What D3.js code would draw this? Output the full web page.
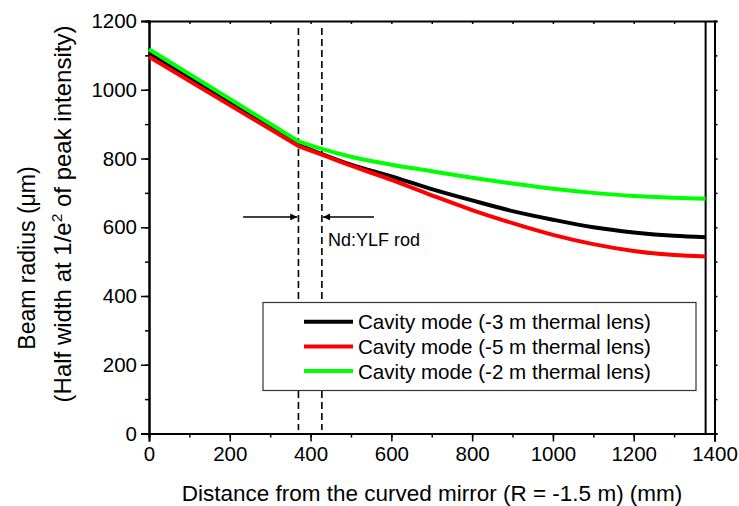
<!DOCTYPE html>
<html>
<head>
<meta charset="utf-8">
<script src="https://cdn.jsdelivr.net/npm/d3@7"></script>
<style>
  html, body { margin: 0; padding: 0; background: #fff; }
  svg { display: block; font-family: Arial, "Liberation Sans", sans-serif; }
</style>
</head>
<body>
<svg id="chart" width="739" height="506"></svg>
<script>
// Distance from the curved mirror (mm)
const distance = [0, 370, 428, 500, 600, 700, 800, 900, 1000, 1100, 1200, 1300, 1378];
// Beam radius (µm) for each thermal-lens case
const lens3m = [1105, 840, 813, 782, 748, 711, 678, 647, 622, 600, 585, 575, 571];
const lens5m = [1096, 836, 811, 779, 738, 693, 650, 612, 578, 551, 531, 519, 515];
const lens2m = [1118, 850, 828, 805, 782, 763, 744, 727, 712, 700, 691, 686, 683];

const seriesNames = [
  "Cavity mode (-3 m thermal lens)",
  "Cavity mode (-5 m thermal lens)",
  "Cavity mode (-2 m thermal lens)"
];
const seriesColors = ["#000000", "#ff0000", "#00ff00"];

// Rod boundaries and the end mirror position (mm)
const rodEdges = [370, 428];
const endMirror = 1378;

const xTicks = [0, 200, 400, 600, 800, 1000, 1200, 1400];
const yTicks = [0, 200, 400, 600, 800, 1000, 1200];

const svg = d3.select("#chart");
const plot = { left: 149, right: 714.5, top: 21, bottom: 433.5 };

const x = d3.scaleLinear().domain([0, 1400]).range([plot.left, plot.right]);
const y = d3.scaleLinear().domain([0, 1200]).range([plot.bottom, plot.top]);

const minorX = d3.range(0, 1401, 100);
const minorY = d3.range(0, 1201, 100);

// Bottom axis
const gx = svg.append("g").attr("transform", `translate(0,${plot.bottom})`);
gx.call(d3.axisBottom(x).tickValues(minorX).tickSize(4).tickFormat(""));
gx.append("g").call(d3.axisBottom(x).tickValues(xTicks).tickSize(8).tickPadding(5).tickFormat(d3.format("d")));
// Left axis
const gy = svg.append("g").attr("transform", `translate(${plot.left},0)`);
gy.call(d3.axisLeft(y).tickValues(minorY).tickSize(4).tickFormat(""));
gy.append("g").call(d3.axisLeft(y).tickValues(yTicks).tickSize(8).tickPadding(4).tickFormat(d3.format("d")));
// Top and right frame with small ticks
const gt = svg.append("g").attr("transform", `translate(0,${plot.top})`);
gt.call(d3.axisTop(x).tickValues(minorX).tickSize(-3).tickFormat(""));
const gr = svg.append("g").attr("transform", `translate(${plot.right},0)`);
gr.call(d3.axisRight(y).tickValues(minorY).tickSize(3).tickFormat(""));

svg.selectAll(".domain").attr("stroke", "#000").attr("stroke-width", 2);
svg.selectAll(".tick line").attr("stroke", "#000").attr("stroke-width", 1.5);
svg.selectAll(".tick text").attr("font-size", 20.5).attr("fill", "#000")
   .attr("font-family", "Arial, 'Liberation Sans', sans-serif");

// Rod boundaries (dashed) and end mirror (solid)
svg.append("g").selectAll("line").data(rodEdges).join("line")
  .attr("x1", d => x(d)).attr("x2", d => x(d))
  .attr("y1", y(1180)).attr("y2", y(10))
  .attr("stroke", "#000").attr("stroke-width", 1.6)
  .attr("stroke-dasharray", "7,4");
svg.append("line")
  .attr("x1", x(endMirror)).attr("x2", x(endMirror))
  .attr("y1", plot.top).attr("y2", plot.bottom)
  .attr("stroke", "#000").attr("stroke-width", 2);

// Beam radius curves: straight propagation up to the rod, smooth curve after it
const kink = distance.indexOf(rodEdges[0]);
const straight = d3.line().x(d => x(d[0])).y(d => y(d[1]));
const curved = d3.line().x(d => x(d[0])).y(d => y(d[1])).curve(d3.curveMonotoneX);
[lens3m, lens5m, lens2m].forEach((vals, k) => {
  const pts = distance.map((d, i) => [d, vals[i]]);
  const dStr = straight(pts.slice(0, kink + 1)) + curved(pts.slice(kink)).replace(/^M/, "L");
  svg.append("path")
    .attr("d", dStr)
    .attr("fill", "none")
    .attr("stroke", seriesColors[k])
    .attr("stroke-width", 4)
    .attr("stroke-linejoin", "round");
});

// Arrows marking the rod
const defs = svg.append("defs");
defs.append("marker").attr("id", "head")
  .attr("viewBox", "0 0 10 10").attr("refX", 10).attr("refY", 5)
  .attr("markerWidth", 11).attr("markerHeight", 7).attr("markerUnits", "userSpaceOnUse")
  .attr("orient", "auto")
  .append("path").attr("d", "M0,0 L10,5 L0,10 Z").attr("fill", "#000");
const arrows = [[233, 367], [557, 431]];
svg.append("g").selectAll("line").data(arrows).join("line")
  .attr("x1", d => x(d[0])).attr("x2", d => x(d[1]))
  .attr("y1", y(630)).attr("y2", y(630))
  .attr("stroke", "#000").attr("stroke-width", 1.6)
  .attr("marker-end", "url(#head)");
svg.append("text")
  .attr("x", x(443)).attr("y", y(546))
  .attr("font-size", 18).text("Nd:YLF rod");

// Legend
const lg = svg.append("g");
lg.append("rect")
  .attr("x", 263).attr("y", 302.5).attr("width", 433).attr("height", 88)
  .attr("fill", "#fff").attr("stroke", "#333").attr("stroke-width", 1.2);
seriesNames.forEach((name, k) => {
  const yy = 321.7 + k * 24.7;
  lg.append("line").attr("x1", 304).attr("x2", 353).attr("y1", yy).attr("y2", yy)
    .attr("stroke", seriesColors[k]).attr("stroke-width", 4);
  lg.append("text").attr("x", 358).attr("y", yy).attr("dy", "0.36em")
    .attr("font-size", 20.6).text(name);
});

// Axis titles
svg.append("text")
  .attr("x", 432).attr("y", 501)
  .attr("text-anchor", "middle").attr("font-size", 22.5)
  .text("Distance from the curved mirror (R = -1.5 m) (mm)");

svg.append("text").attr("transform", "translate(35,258) rotate(-90)")
  .attr("text-anchor", "middle").attr("font-size", 23)
  .text("Beam radius (\u03bcm)");
const t2 = svg.append("text").attr("transform", "translate(71,214) rotate(-90)")
  .attr("text-anchor", "middle").attr("font-size", 24);
t2.append("tspan").text("(Half width at 1/e");
t2.append("tspan").attr("font-size", 15.5).attr("dy", -9.5).text("2");
t2.append("tspan").attr("dy", 9.5).text(" of peak intensity)");
</script>
</body>
</html>
